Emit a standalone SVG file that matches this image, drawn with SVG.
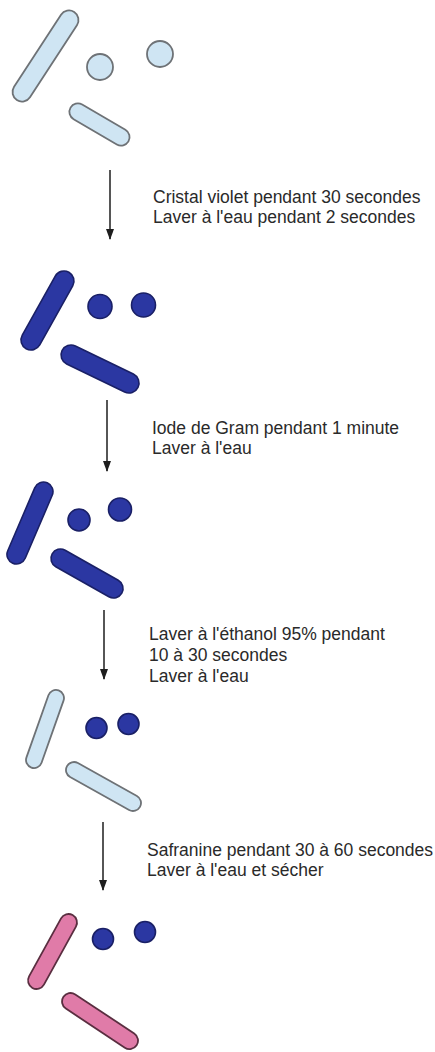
<svg xmlns="http://www.w3.org/2000/svg" width="435" height="1052" viewBox="0 0 435 1052">
  <style>
    .pale { fill: #cfe5f3; stroke: #6e7276; stroke-width: 1.8; }
    .dark { fill: #2b37a2; stroke: #1a2066; stroke-width: 1.6; }
    .pink { fill: #e07ba8; stroke: #5a2e40; stroke-width: 1.8; }
    .step { stroke: #1e1e1e; stroke-width: 1.5; fill: none; marker-end: url(#head); }
    .label { font-family: "Liberation Sans", Arial, Helvetica, sans-serif; font-size: 17.5px; fill: #2a2a2a; }
  </style>
  <defs>
    <!-- filled arrowhead, drawn pointing along +x and turned with the line -->
    <marker id="head" markerWidth="11" markerHeight="8" refX="10" refY="4" orient="auto" markerUnits="userSpaceOnUse" viewBox="0 0 11 8">
      <path d="M0,0 L11,4 L0,8 Z" fill="#1e1e1e"/>
    </marker>
  </defs>
  <rect width="435" height="1052" fill="#ffffff"/>

  <!-- unstained smear -->
  <g id="stage-smear">
    <rect class="pale" x="-52.5" y="-9.5" width="105" height="19" rx="9.5" transform="translate(45.5 56) rotate(-56.9)"/>
    <circle class="pale" cx="100" cy="67" r="13"/>
    <circle class="pale" cx="160" cy="54" r="13"/>
    <rect class="pale" x="-33.5" y="-8.5" width="67" height="17" rx="8.5" transform="translate(99.5 124.5) rotate(30.2)"/>
  </g>

  <!-- after crystal violet -->
  <g id="stage-crystal-violet">
    <rect class="dark" x="-43.8" y="-10" width="87.6" height="20" rx="10" transform="translate(47.5 310.5) rotate(-60.8)"/>
    <circle class="dark" cx="100" cy="306.5" r="12"/>
    <circle class="dark" cx="143.5" cy="305" r="12"/>
    <rect class="dark" x="-42.2" y="-10" width="84.4" height="20" rx="10" transform="translate(100 369) rotate(25.8)"/>
  </g>

  <!-- after Gram's iodine -->
  <g id="stage-iodine">
    <rect class="dark" x="-43.8" y="-9.5" width="87.5" height="19" rx="9.5" transform="translate(30 523) rotate(-66.8)"/>
    <circle class="dark" cx="79" cy="520" r="11"/>
    <circle class="dark" cx="120" cy="509.5" r="11.5"/>
    <rect class="dark" x="-40" y="-9.5" width="80" height="19" rx="9.5" transform="translate(87 573.5) rotate(29.5)"/>
  </g>

  <!-- after ethanol decolorization -->
  <g id="stage-ethanol">
    <rect class="pale" x="-40.9" y="-8" width="81.8" height="16" rx="8" transform="translate(45 729) rotate(-70.5)"/>
    <circle class="dark" cx="96.5" cy="728" r="10.5"/>
    <circle class="dark" cx="128.5" cy="724" r="10.5"/>
    <rect class="pale" x="-41.8" y="-8" width="83.6" height="16" rx="8" transform="translate(103.5 786.5) rotate(29.2)"/>
  </g>

  <!-- after safranin counterstain -->
  <g id="stage-safranin">
    <rect class="pink" x="-41.6" y="-8.5" width="83.2" height="17" rx="8.5" transform="translate(52.5 951.5) rotate(-61.1)"/>
    <circle class="dark" cx="103" cy="939" r="10.5"/>
    <circle class="dark" cx="145" cy="932" r="10.5"/>
    <rect class="pink" x="-43.8" y="-8.5" width="87.7" height="17" rx="8.5" transform="translate(100 1021) rotate(33.5)"/>
  </g>

  <!-- step arrows -->
  <g id="connectors">
    <line class="step" x1="110" y1="170" x2="110" y2="239"/>
    <line class="step" x1="107" y1="400" x2="107" y2="471"/>
    <line class="step" x1="104" y1="610" x2="104" y2="679"/>
    <line class="step" x1="103" y1="822" x2="103" y2="890"/>
  </g>

  <!-- step instructions -->
  <g id="label-1">
    <text class="label" x="153" y="203">Cristal violet pendant 30 secondes</text>
    <text class="label" x="153" y="223">Laver à l'eau pendant 2 secondes</text>
  </g>
  <g id="label-2">
    <text class="label" x="152" y="434">Iode de Gram pendant 1 minute</text>
    <text class="label" x="152" y="454">Laver à l'eau</text>
  </g>
  <g id="label-3">
    <text class="label" x="149" y="640">Laver à l'éthanol 95% pendant</text>
    <text class="label" x="149" y="661">10 à 30 secondes</text>
    <text class="label" x="149" y="682">Laver à l'eau</text>
  </g>
  <g id="label-4">
    <text class="label" x="147" y="856">Safranine pendant 30 à 60 secondes</text>
    <text class="label" x="147" y="876">Laver à l'eau et sécher</text>
  </g>
</svg>
